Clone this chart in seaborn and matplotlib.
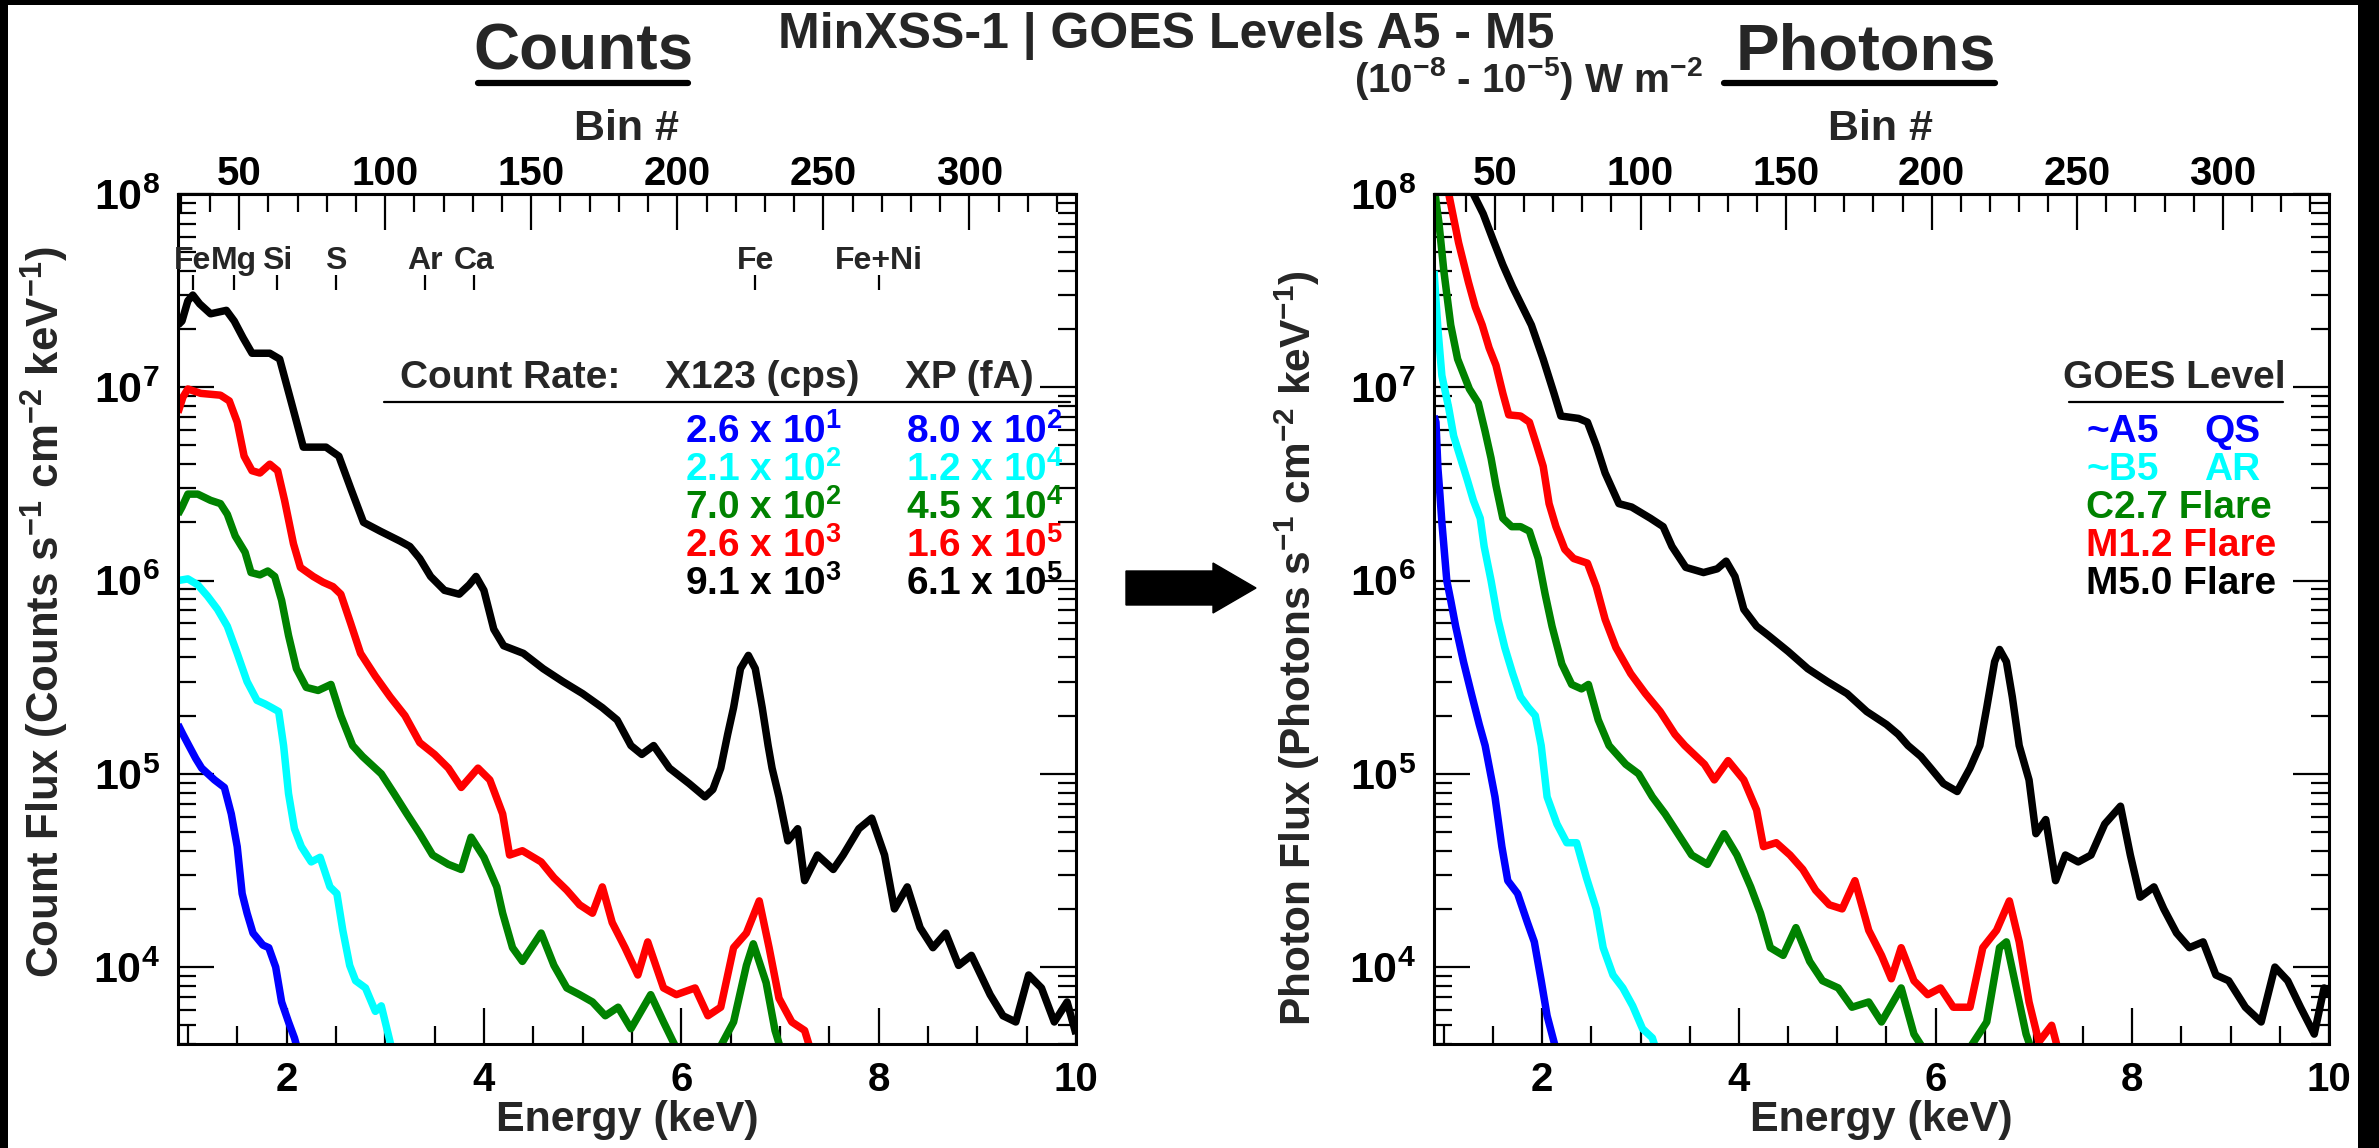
import numpy as np
import pandas as pd
import matplotlib
matplotlib.use("Agg")
import matplotlib.pyplot as plt
import seaborn as sns
from matplotlib.ticker import (FixedLocator, MultipleLocator, FuncFormatter,
                               LogLocator, NullFormatter)
from matplotlib.patches import Polygon, Rectangle
from matplotlib.lines import Line2D

# ---------------------------------------------------------------- data
# MinXSS-1 X123 spectra, energy in keV; count flux and photon flux
counts_m50_energy = [0.90, 0.94, 1.00, 1.05, 1.12, 1.23, 1.39, 1.47, 1.56, 1.65, 1.83, 1.93, 2.05, 2.17,
                     2.40, 2.53, 2.65, 2.78, 2.95, 3.15, 3.25, 3.35, 3.46, 3.60, 3.75, 3.85, 3.92, 4.00,
                     4.10, 4.20, 4.40, 4.60, 4.80, 5.00, 5.20, 5.35, 5.49, 5.60, 5.72, 5.88, 6.08, 6.24,
                     6.32, 6.40, 6.47, 6.53, 6.60, 6.68, 6.75, 6.82, 6.88, 6.92, 6.99, 7.08, 7.18, 7.25,
                     7.38, 7.54, 7.64, 7.80, 7.93, 8.06, 8.16, 8.29, 8.42, 8.55, 8.68, 8.81, 8.94, 9.13,
                     9.26, 9.39, 9.52, 9.65, 9.78, 9.91, 10.0]
counts_m50_flux = [2.1e7, 2.2e7, 2.8e7, 3.0e7, 2.7e7, 2.4e7, 2.5e7, 2.2e7, 1.8e7, 1.5e7, 1.5e7, 1.4e7, 8.3e6, 4.9e6,
                   4.9e6, 4.4e6, 3.0e6, 2.0e6, 1.8e6, 1.6e6, 1.5e6, 1.3e6, 1.05e6, 8.9e5, 8.5e5, 9.5e5, 1.05e6, 8.9e5,
                   5.6e5, 4.6e5, 4.2e5, 3.5e5, 3.0e5, 2.6e5, 2.2e5, 1.9e5, 1.4e5, 1.26e5, 1.4e5, 1.07e5, 8.9e4, 7.6e4,
                   8.3e4, 1.07e5, 1.6e5, 2.2e5, 3.5e5, 4.1e5, 3.5e5, 2.2e5, 1.4e5, 1.07e5, 7.6e4, 4.5e4, 5.2e4, 2.8e4,
                   3.8e4, 3.2e4, 3.8e4, 5.2e4, 5.9e4, 3.8e4, 2.0e4, 2.6e4, 1.6e4, 1.26e4, 1.5e4, 1.02e4, 1.15e4, 7.2e3,
                   5.6e3, 5.2e3, 9.1e3, 7.8e3, 5.2e3, 6.6e3, 4.5e3]

counts_m12_energy = [0.90, 0.95, 1.00, 1.13, 1.33, 1.42, 1.50, 1.57, 1.65, 1.73, 1.83, 1.91, 1.98, 2.07,
                     2.14, 2.27, 2.37, 2.47, 2.55, 2.65, 2.75, 2.90, 3.05, 3.20, 3.35, 3.50, 3.64, 3.77,
                     3.94, 4.06, 4.19, 4.26, 4.39, 4.58, 4.71, 4.84, 4.97, 5.10, 5.20, 5.30, 5.43, 5.56,
                     5.66, 5.82, 5.95, 6.14, 6.27, 6.40, 6.53, 6.66, 6.79, 6.89, 6.99, 7.12, 7.25, 7.35]
counts_m12_flux = [7.4e6, 8.9e6, 9.8e6, 9.3e6, 9.1e6, 8.5e6, 6.6e6, 4.4e6, 3.7e6, 3.6e6, 4.0e6, 3.7e6, 2.6e6, 1.55e6,
                   1.17e6, 1.05e6, 9.8e5, 9.3e5, 8.5e5, 6.0e5, 4.2e5, 3.2e5, 2.5e5, 2.0e5, 1.45e5, 1.26e5, 1.07e5, 8.5e4,
                   1.07e5, 9.3e4, 6.2e4, 3.8e4, 4.0e4, 3.5e4, 2.9e4, 2.5e4, 2.1e4, 1.9e4, 2.6e4, 1.7e4, 1.26e4, 9.1e3,
                   1.35e4, 7.8e3, 7.2e3, 7.8e3, 5.6e3, 6.2e3, 1.26e4, 1.5e4, 2.2e4, 1.26e4, 6.9e3, 5.2e3, 4.7e3, 3.2e3]

counts_c27_energy = [0.90, 0.94, 1.00, 1.10, 1.23, 1.33, 1.40, 1.48, 1.58, 1.64, 1.73, 1.81, 1.88, 1.95,
                     2.02, 2.10, 2.20, 2.32, 2.45, 2.55, 2.67, 2.77, 2.96, 3.09, 3.22, 3.35, 3.48, 3.64,
                     3.77, 3.87, 4.00, 4.13, 4.19, 4.29, 4.39, 4.58, 4.71, 4.84, 4.97, 5.10, 5.23, 5.36,
                     5.49, 5.69, 5.82, 5.95, 6.15, 6.35, 6.53, 6.66, 6.73, 6.86, 6.95, 7.05]
counts_c27_flux = [2.2e6, 2.4e6, 2.8e6, 2.8e6, 2.6e6, 2.5e6, 2.2e6, 1.7e6, 1.4e6, 1.1e6, 1.07e6, 1.12e6, 1.05e6, 7.9e5,
                   5.2e5, 3.5e5, 2.8e5, 2.7e5, 2.9e5, 2.0e5, 1.4e5, 1.23e5, 1.0e5, 7.9e4, 6.2e4, 4.9e4, 3.8e4, 3.4e4,
                   3.2e4, 4.7e4, 3.7e4, 2.6e4, 1.9e4, 1.26e4, 1.07e4, 1.5e4, 1.02e4, 7.8e3, 7.2e3, 6.6e3, 5.6e3, 6.2e3,
                   4.8e3, 7.2e3, 5.2e3, 3.8e3, 3.2e3, 3.5e3, 5.2e3, 1.02e4, 1.32e4, 8.3e3, 4.7e3, 3.2e3]

counts_b5_energy = [0.90, 1.00, 1.10, 1.20, 1.30, 1.40, 1.50, 1.60, 1.70, 1.78, 1.85, 1.92, 1.97, 2.02,
                    2.08, 2.15, 2.25, 2.34, 2.44, 2.51, 2.57, 2.64, 2.70, 2.80, 2.90, 2.96, 3.03, 3.10]
counts_b5_flux = [1.0e6, 1.02e6, 9.5e5, 8.3e5, 7.1e5, 5.8e5, 4.2e5, 3.0e5, 2.4e5, 2.3e5, 2.2e5, 2.1e5, 1.4e5, 7.9e4,
                  5.2e4, 4.2e4, 3.5e4, 3.7e4, 2.6e4, 2.4e4, 1.55e4, 1.02e4, 8.5e3, 7.8e3, 5.9e3, 6.3e3, 4.5e3, 3.2e3]

counts_a5_energy = [0.90, 0.95, 1.01, 1.08, 1.14, 1.27, 1.37, 1.44, 1.50, 1.55, 1.60, 1.66, 1.76, 1.82,
                    1.89, 1.95, 2.02, 2.08, 2.15]
counts_a5_flux = [1.8e5, 1.6e5, 1.4e5, 1.2e5, 1.07e5, 9.3e4, 8.5e4, 6.2e4, 4.2e4, 2.4e4, 1.9e4, 1.5e4, 1.3e4, 1.26e4,
                  1.0e4, 6.6e3, 5.2e3, 4.3e3, 3.2e3]

photons_m50_energy = [1.25, 1.30, 1.40, 1.50, 1.60, 1.70, 1.80, 1.89, 2.01, 2.12, 2.19, 2.37, 2.46, 2.55,
                      2.64, 2.78, 2.91, 3.10, 3.23, 3.32, 3.46, 3.64, 3.78, 3.87, 3.96, 4.05, 4.18, 4.30,
                      4.50, 4.70, 4.90, 5.10, 5.30, 5.50, 5.62, 5.72, 5.85, 5.95, 6.08, 6.22, 6.35, 6.45,
                      6.52, 6.60, 6.65, 6.72, 6.78, 6.85, 6.95, 7.02, 7.12, 7.22, 7.32, 7.45, 7.58, 7.72,
                      7.88, 7.98, 8.08, 8.22, 8.32, 8.45, 8.58, 8.72, 8.85, 8.98, 9.15, 9.31, 9.45, 9.58,
                      9.71, 9.85, 9.95, 10.0]
photons_m50_flux = [1.1e8, 1.0e8, 7.9e7, 5.8e7, 4.3e7, 3.3e7, 2.6e7, 2.1e7, 1.4e7, 9.3e6, 7.1e6, 6.9e6, 6.6e6, 5.0e6,
                    3.6e6, 2.5e6, 2.4e6, 2.1e6, 1.9e6, 1.5e6, 1.17e6, 1.1e6, 1.15e6, 1.26e6, 1.05e6, 7.1e5, 5.8e5, 5.2e5,
                    4.3e5, 3.5e5, 3.0e5, 2.6e5, 2.1e5, 1.8e5, 1.6e5, 1.4e5, 1.23e5, 1.07e5, 8.9e4, 8.1e4, 1.07e5, 1.4e5,
                    2.2e5, 3.8e5, 4.4e5, 3.8e5, 2.5e5, 1.4e5, 9.3e4, 4.9e4, 5.8e4, 2.8e4, 3.8e4, 3.5e4, 3.8e4, 5.5e4,
                    6.8e4, 3.8e4, 2.3e4, 2.6e4, 2.0e4, 1.5e4, 1.26e4, 1.35e4, 9.1e3, 8.5e3, 6.2e3, 5.2e3, 1.0e4, 8.5e3,
                    6.2e3, 4.5e3, 7.8e3, 7.1e3]

photons_m12_energy = [1.00, 1.05, 1.15, 1.25, 1.32, 1.39, 1.46, 1.53, 1.60, 1.66, 1.78, 1.87, 1.94, 2.01,
                      2.07, 2.14, 2.23, 2.32, 2.46, 2.55, 2.64, 2.75, 2.90, 3.05, 3.20, 3.35, 3.45, 3.65,
                      3.75, 3.89, 4.05, 4.18, 4.25, 4.38, 4.52, 4.65, 4.78, 4.92, 5.05, 5.18, 5.32, 5.45,
                      5.55, 5.65, 5.78, 5.92, 6.05, 6.18, 6.35, 6.48, 6.62, 6.75, 6.85, 6.95, 7.05, 7.18, 7.28]
photons_m12_flux = [1.1e8, 1.0e8, 5.6e7, 3.5e7, 2.6e7, 2.1e7, 1.6e7, 1.3e7, 9.3e6, 7.2e6, 7.1e6, 6.6e6, 5.1e6, 3.9e6,
                    2.5e6, 1.9e6, 1.45e6, 1.3e6, 1.23e6, 9.3e5, 6.3e5, 4.5e5, 3.3e5, 2.6e5, 2.1e5, 1.6e5, 1.4e5, 1.12e5,
                    9.3e4, 1.17e5, 9.3e4, 6.5e4, 4.2e4, 4.4e4, 3.8e4, 3.2e4, 2.5e4, 2.1e4, 2.0e4, 2.8e4, 1.55e4, 1.15e4,
                    8.7e3, 1.26e4, 8.5e3, 7.2e3, 7.8e3, 6.2e3, 6.2e3, 1.26e4, 1.55e4, 2.2e4, 1.35e4, 6.6e3, 4.1e3, 5.0e3, 3.2e3]

photons_c27_energy = [0.90, 0.95, 1.00, 1.07, 1.14, 1.26, 1.35, 1.42, 1.48, 1.53, 1.60, 1.69, 1.78, 1.87,
                      1.96, 2.03, 2.10, 2.20, 2.30, 2.40, 2.47, 2.57, 2.68, 2.85, 2.98, 3.12, 3.25, 3.38,
                      3.52, 3.68, 3.85, 3.98, 4.12, 4.22, 4.32, 4.45, 4.58, 4.72, 4.85, 5.01, 5.15, 5.32,
                      5.45, 5.65, 5.78, 5.95, 6.30, 6.52, 6.65, 6.72, 6.82, 6.92, 7.02]
photons_c27_flux = [1.1e8, 7.1e7, 4.0e7, 2.1e7, 1.4e7, 9.8e6, 8.3e6, 5.9e6, 4.3e6, 3.1e6, 2.1e6, 1.9e6, 1.9e6, 1.8e6,
                    1.3e6, 8.5e5, 5.8e5, 3.7e5, 2.9e5, 2.75e5, 2.9e5, 1.9e5, 1.4e5, 1.12e5, 1.0e5, 7.6e4, 6.2e4, 4.9e4,
                    3.8e4, 3.4e4, 4.9e4, 3.8e4, 2.6e4, 1.9e4, 1.26e4, 1.15e4, 1.6e4, 1.07e4, 8.5e3, 7.8e3, 6.2e3, 6.6e3,
                    5.2e3, 7.8e3, 4.5e3, 3.3e3, 3.5e3, 5.2e3, 1.26e4, 1.35e4, 7.8e3, 4.5e3, 3.2e3]

photons_b5_energy = [0.90, 0.94, 0.98, 1.05, 1.10, 1.17, 1.24, 1.30, 1.37, 1.41, 1.48, 1.55, 1.62, 1.70,
                     1.78, 1.86, 1.93, 1.99, 2.05, 2.15, 2.25, 2.35, 2.45, 2.55, 2.62, 2.72, 2.82, 2.92,
                     3.02, 3.12, 3.20]
photons_b5_flux = [4.0e7, 2.0e7, 1.15e7, 7.8e6, 5.6e6, 4.3e6, 3.3e6, 2.6e6, 2.1e6, 1.5e6, 1.0e6, 6.3e5, 4.5e5, 3.3e5,
                   2.5e5, 2.2e5, 2.0e5, 1.4e5, 7.6e4, 5.5e4, 4.4e4, 4.4e4, 2.9e4, 2.0e4, 1.26e4, 9.1e3, 7.8e3, 6.3e3,
                   4.8e3, 4.3e3, 3.2e3]

photons_a5_energy = [0.90, 0.92, 0.94, 0.96, 0.98, 1.03, 1.07, 1.12, 1.20, 1.28, 1.36, 1.42, 1.52, 1.59,
                     1.65, 1.75, 1.85, 1.92, 1.99, 2.05, 2.12, 2.18]
photons_a5_flux = [7.1e6, 6.6e6, 3.8e6, 2.8e6, 2.0e6, 1.0e6, 7.9e5, 5.8e5, 3.8e5, 2.6e5, 1.8e5, 1.4e5, 7.6e4, 4.2e4,
                   2.8e4, 2.4e4, 1.7e4, 1.35e4, 8.5e3, 5.6e3, 4.1e3, 3.2e3]

level_names = ["M5.0", "M1.2", "C2.7", "B5", "A5"]          # drawing order (black first)
level_colors = ["#000000", "#ff0000", "#008200", "#00ffff", "#0000ff"]

# Count-rate table (rows ordered A5 .. M5.0)
x123_mantissa = ["2.6", "2.1", "7.0", "2.6", "9.1"]
x123_exponent = [1, 2, 2, 3, 3]
xp_mantissa = ["8.0", "1.2", "4.5", "1.6", "6.1"]
xp_exponent = [2, 4, 4, 5, 5]
table_colors = ["#0000ff", "#00ffff", "#008200", "#ff0000", "#000000"]

goes_level = ["~A5", "~B5", "C2.7", "M1.2", "M5.0"]
goes_class = ["QS", "AR", "Flare", "Flare", "Flare"]

element_names = ["Fe", "Mg", "Si", "S", "Ar", "Ca", "Fe", "Fe+Ni"]
element_energy = [1.05, 1.47, 1.90, 2.50, 3.40, 3.90, 6.75, 8.00]

bin_ticks = [50, 100, 150, 200, 250, 300]

# ---------------------------------------------------------------- tidy table
series = {
    ("counts", "M5.0"): (counts_m50_energy, counts_m50_flux),
    ("counts", "M1.2"): (counts_m12_energy, counts_m12_flux),
    ("counts", "C2.7"): (counts_c27_energy, counts_c27_flux),
    ("counts", "B5"): (counts_b5_energy, counts_b5_flux),
    ("counts", "A5"): (counts_a5_energy, counts_a5_flux),
    ("photons", "M5.0"): (photons_m50_energy, photons_m50_flux),
    ("photons", "M1.2"): (photons_m12_energy, photons_m12_flux),
    ("photons", "C2.7"): (photons_c27_energy, photons_c27_flux),
    ("photons", "B5"): (photons_b5_energy, photons_b5_flux),
    ("photons", "A5"): (photons_a5_energy, photons_a5_flux),
}
frames = []
for (panel, level), (energy, flux) in series.items():
    frames.append(pd.DataFrame({"panel": panel, "level": level,
                                "energy": energy, "flux": flux}))
spectra = pd.DataFrame(pd.concat(frames, ignore_index=True))

# ---------------------------------------------------------------- style
sns.set_theme(style="white")
plt.rcParams["font.family"] = ["Liberation Sans", "DejaVu Sans"]
plt.rcParams["font.weight"] = "bold"
plt.rcParams["mathtext.fontset"] = "custom"
plt.rcParams["mathtext.rm"] = "Liberation Sans:bold"
plt.rcParams["mathtext.bf"] = "Liberation Sans:bold"
plt.rcParams["mathtext.it"] = "Liberation Sans:bold"
plt.rcParams["axes.edgecolor"] = "black"
plt.rcParams["xtick.color"] = "black"
plt.rcParams["ytick.color"] = "black"

W, H = 2379, 1148
fig = plt.figure(figsize=(W / 100, H / 100), dpi=100)
fig.patch.set_facecolor("white")


def fx(x):
    return x / W


def fy(y):
    return 1 - y / H


def energy_to_bin(e):
    return (np.asarray(e) - 0.04) / 0.0296


def bin_to_energy(b):
    return np.asarray(b) * 0.0296 + 0.04


AX_TOP, AX_BOTTOM = 194, 1044
ax_left = fig.add_axes([fx(178), fy(AX_BOTTOM), fx(1076) - fx(178), (AX_BOTTOM - AX_TOP) / H])
ax_right = fig.add_axes([fx(1434), fy(AX_BOTTOM), fx(2329) - fx(1434), (AX_BOTTOM - AX_TOP) / H])

palette = dict(zip(level_names, level_colors))

for ax, panel in [(ax_left, "counts"), (ax_right, "photons")]:
    sns.lineplot(data=spectra[spectra["panel"] == panel], x="energy", y="flux",
                 hue="level", hue_order=level_names, palette=palette,
                 estimator=None, sort=False, linewidth=5.4, legend=False, ax=ax)
    for ln in ax.get_lines():
        ln.set_solid_joinstyle("round")
        ln.set_solid_capstyle("butt")
    ax.set_yscale("log")
    ax.set_xlim(0.9, 10)
    ax.set_ylim(4e3, 1e8)
    ax.set_xlabel("")
    ax.set_ylabel("")
    ax.set_facecolor("white")

    ax.xaxis.set_major_locator(FixedLocator([2, 4, 6, 8, 10]))
    ax.xaxis.set_minor_locator(MultipleLocator(0.5))
    ax.xaxis.set_major_formatter(FuncFormatter(lambda v, p: f"{v:g}"))
    ax.yaxis.set_major_locator(LogLocator(base=10, numticks=12))
    ax.yaxis.set_minor_locator(LogLocator(base=10, subs=np.arange(2, 10), numticks=40))
    ax.yaxis.set_major_formatter(
        FuncFormatter(lambda v, p: r"$\mathbf{10^{%d}}$" % int(round(np.log10(v)))))
    ax.yaxis.set_minor_formatter(NullFormatter())

    ax.tick_params(which="both", direction="in", top=False, right=True,
                   bottom=True, left=True, width=1.6)
    ax.tick_params(which="major", length=26)
    ax.tick_params(which="minor", length=13)
    ax.tick_params(axis="x", which="major", labelsize=29, pad=12)
    ax.tick_params(axis="y", which="major", labelsize=31, pad=13)
    for sp in ax.spines.values():
        sp.set_linewidth(2.2)
        sp.set_color("black")

    top = ax.secondary_xaxis("top", functions=(energy_to_bin, bin_to_energy))
    top.xaxis.set_major_locator(FixedLocator(bin_ticks))
    top.xaxis.set_minor_locator(MultipleLocator(10))
    top.xaxis.set_major_formatter(FuncFormatter(lambda v, p: f"{v:g}"))
    top.tick_params(which="both", direction="in", width=1.6)
    top.tick_params(which="major", length=26, labelsize=29, pad=1)
    top.tick_params(which="minor", length=13)
    top.spines["top"].set_linewidth(2.2)

# element line markers on the count panel
for name, e in zip(element_names, element_energy):
    ax_left.text(e, 4.5e7, name, ha="center", va="center", fontsize=23, fontweight="bold")
    ax_left.vlines(e, 3.2e7, 3.8e7, color="black", linewidth=1.6)

# ---------------------------------------------------------------- headings
fig.text(fx(1166), fy(36), "MinXSS-1 | GOES Levels A5 - M5", ha="center", va="center",
         fontsize=36, fontweight="bold")
fig.text(fx(1528), fy(78), r"(10$^{\mathbf{-8}}$ - 10$^{\mathbf{-5}}$) W m$^{\mathbf{-2}}$",
         ha="center", va="center", fontsize=29, fontweight="bold")
fig.text(fx(583), fy(53), "Counts", ha="center", va="center", fontsize=46, fontweight="bold")
fig.text(fx(1866), fy(53), "Photons", ha="center", va="center", fontsize=47, fontweight="bold")
for x0, x1 in [(478, 688), (1724, 1995)]:
    fig.add_artist(Line2D([fx(x0), fx(x1)], [fy(83), fy(83)], color="black", linewidth=4.5))

for cx in (627, 1881):
    fig.text(fx(cx), fy(129), "Bin #", ha="center", va="center", fontsize=31, fontweight="bold")
    fig.text(fx(cx), fy(1120), "Energy (keV)", ha="center", va="center", fontsize=31, fontweight="bold")

fig.text(fx(45), fy(612), r"Count Flux (Counts s$^{\mathbf{-1}}$ cm$^{\mathbf{-2}}$ keV$^{\mathbf{-1}}$)",
         rotation=90, ha="center", va="center", fontsize=31.5, fontweight="bold")
fig.text(fx(1297), fy(648), r"Photon Flux (Photons s$^{\mathbf{-1}}$ cm$^{\mathbf{-2}}$ keV$^{\mathbf{-1}}$)",
         rotation=90, ha="center", va="center", fontsize=30.5, fontweight="bold")

# ---------------------------------------------------------------- count-rate table
fig.text(fx(400), fy(378), "Count Rate:", ha="left", va="center", fontsize=28, fontweight="bold")
fig.text(fx(665), fy(378), "X123 (cps)", ha="left", va="center", fontsize=28, fontweight="bold")
fig.text(fx(905), fy(378), "XP (fA)", ha="left", va="center", fontsize=28, fontweight="bold")
fig.add_artist(Line2D([fx(384), fx(1070)], [fy(402), fy(402)], color="black", linewidth=1.6))
row_y = [432, 470, 508, 546, 584]
for y, m1, p1, m2, p2, c in zip(row_y, x123_mantissa, x123_exponent, xp_mantissa, xp_exponent, table_colors):
    fig.text(fx(842), fy(y), r"%s x 10$^{\mathbf{%d}}$" % (m1, p1), ha="right", va="center",
             fontsize=28, fontweight="bold", color=c)
    fig.text(fx(906), fy(y), r"%s x 10$^{\mathbf{%d}}$" % (m2, p2), ha="left", va="center",
             fontsize=28, fontweight="bold", color=c)

# ---------------------------------------------------------------- GOES level key
fig.text(fx(2063), fy(378), "GOES Level", ha="left", va="center", fontsize=28, fontweight="bold")
fig.add_artist(Line2D([fx(2069), fx(2283)], [fy(402), fy(402)], color="black", linewidth=1.6))
for y, lvl, cls, c in zip(row_y, goes_level, goes_class, table_colors):
    if cls == "Flare":
        fig.text(fx(2086), fy(y), f"{lvl} {cls}", ha="left", va="center",
                 fontsize=28, fontweight="bold", color=c)
    else:
        fig.text(fx(2086), fy(y), lvl, ha="left", va="center", fontsize=28, fontweight="bold", color=c)
        fig.text(fx(2204), fy(y), cls, ha="left", va="center", fontsize=28, fontweight="bold", color=c)

# ---------------------------------------------------------------- arrow between panels
ay = 588
arrow_px = [(1126, ay - 17), (1213, ay - 17), (1213, ay - 25), (1256, ay),
            (1213, ay + 25), (1213, ay + 17), (1126, ay + 17)]
fig.add_artist(Polygon([(fx(x), fy(y)) for x, y in arrow_px], closed=True,
                       transform=fig.transFigure, facecolor="black", edgecolor="black"))

# ---------------------------------------------------------------- frame edges
for x0, y0, w, h in [(0, 0, 8, H), (0, 0, W, 5), (2358, 0, W - 2358, H)]:
    fig.add_artist(Rectangle((fx(x0), fy(y0 + h)), w / W, h / H, transform=fig.transFigure,
                             facecolor="black", edgecolor="none"))

fig.savefig("out.png", dpi=100, facecolor="white")
